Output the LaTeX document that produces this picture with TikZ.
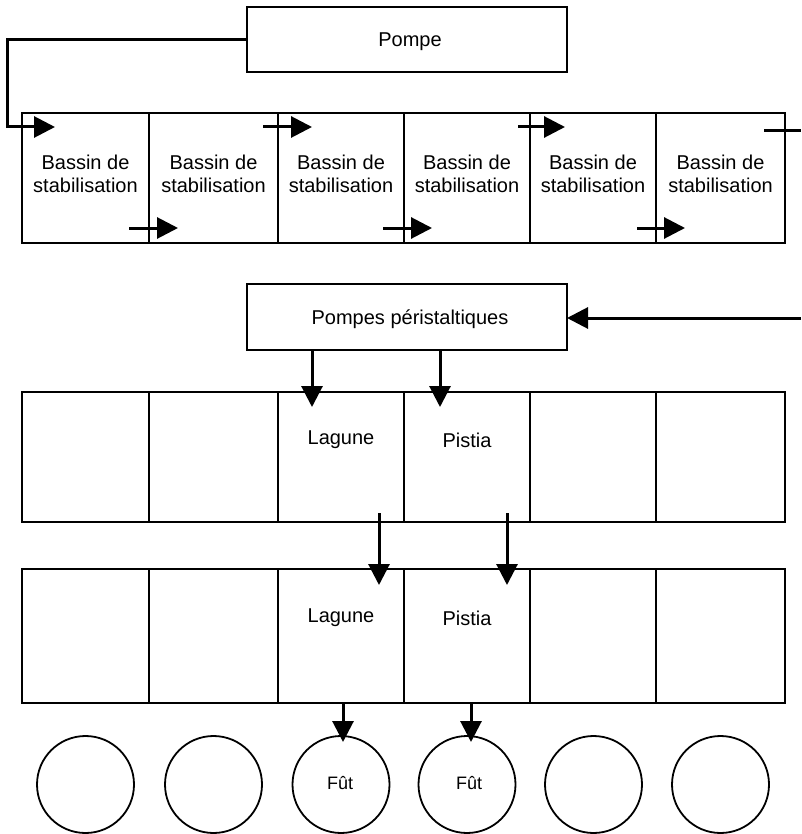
\documentclass[tikz,border=0pt]{standalone}
\usepackage{fontspec}
\setmainfont{Liberation Sans}
\usetikzlibrary{arrows.meta}
\begin{document}
\begin{tikzpicture}[x=1pt,y=-1pt,
  box/.style={draw, line width=2pt, inner sep=0pt, outer sep=0pt},
  cell/.style={box, minimum height=130pt},
  lbl/.style={inner sep=0pt, font=\fontsize{20}{22.5}\selectfont, align=center},
  fut/.style={inner sep=0pt, font=\fontsize{18}{20}\selectfont},
  drum/.style={circle, draw, line width=1.8pt, minimum size=97pt, inner sep=0pt, outer sep=0pt},
  conn/.style={line width=3pt, -{Triangle[length=21pt,width=21pt]}},
  pipe/.style={line width=3pt}
]
\useasboundingbox (0,0) rectangle (801,834);

% pumps
\node[box, minimum width=320pt, minimum height=65pt] (pompe) at (407,39.5) {};
\node[lbl] (tpompe) at (410,42) {Pompe};
\node[box, minimum width=320pt, minimum height=66pt] (pp) at (407,317) {};
\node[lbl] (tpp) at (410,319) {Pompes péristaltiques};

% row 1
\foreach \i/\l/\r in {1/22/149,2/149/278,3/278/404,4/404/530,5/530/656,6/656/785}{
  \node[cell, minimum width={\r-\l}] (a\i) at ({(\l+\r)/2},178) {};
  \node[lbl] (ta\i) at ({(\l+\r)/2},174) {Bassin de\\stabilisation};
}
% row 2
\foreach \i/\l/\r in {1/22/149,2/149/278,3/278/404,4/404/530,5/530/656,6/656/785}{
  \node[cell, minimum width={\r-\l}] (b\i) at ({(\l+\r)/2},457) {};
}
% row 3
\foreach \i/\l/\r in {1/22/149,2/149/278,3/278/404,4/404/530,5/530/656,6/656/785}{
  \node[cell, minimum height=134pt, minimum width={\r-\l}] (c\i) at ({(\l+\r)/2},636) {};
}
\node[lbl] (tb3) at (341,440) {Lagune};
\node[lbl] (tb4) at (467,440) {Pistia};
\node[lbl] (tc3) at (341,618) {Lagune};
\node[lbl] (tc4) at (467,618) {Pistia};

% drums
\foreach \i/\x in {1/85.5,2/213.5,3/341,4/467,5/593.5,6/720.5}{
  \node[drum] (d\i) at (\x,784.5) {};
}
\node[fut] (td3) at (340,783) {Fût};
\node[fut] (td4) at (469,783) {Fût};

% coordinates
\coordinate (k0) at (7,127);
\coordinate (e1) at (55,127);
\coordinate (s2) at (129,228);  \coordinate (e2) at (178,228);
\coordinate (s3) at (263,127);  \coordinate (e3) at (312,127);
\coordinate (s4) at (383,228);  \coordinate (e4) at (432,228);
\coordinate (s5) at (518,127);  \coordinate (e5) at (565,127);
\coordinate (s6) at (637,228);  \coordinate (e6) at (685,228);
\coordinate (o1) at (764,131);  \coordinate (o2) at (801,131);
\coordinate (r0) at (801,318);
\coordinate (p1) at (312,407);  \coordinate (p2) at (440,407);
\coordinate (q1s) at (379,513); \coordinate (q1) at (379,585);
\coordinate (q2s) at (507,513); \coordinate (q2) at (507,585);
\coordinate (f1) at (343,742);  \coordinate (f2) at (471,742);

% top row flow
\draw[conn] (pompe.west) -| (k0) -- (e1);
\draw[conn] (s2) -- (e2);
\draw[conn] (s3) -- (e3);
\draw[conn] (s4) -- (e4);
\draw[conn] (s5) -- (e5);
\draw[conn] (s6) -- (e6);
\draw[pipe] (o1) -- (o2);

% peristaltic
\draw[conn] (r0) -- (pp.east |- r0);
\draw[conn] (pp.south -| p1) -- (p1);
\draw[conn] (pp.south -| p2) -- (p2);
\draw[conn] (q1s) -- (q1);
\draw[conn] (q2s) -- (q2);
\draw[conn] (c3.south -| f1) -- (f1);
\draw[conn] (c4.south -| f2) -- (f2);
\end{tikzpicture}
\end{document}
